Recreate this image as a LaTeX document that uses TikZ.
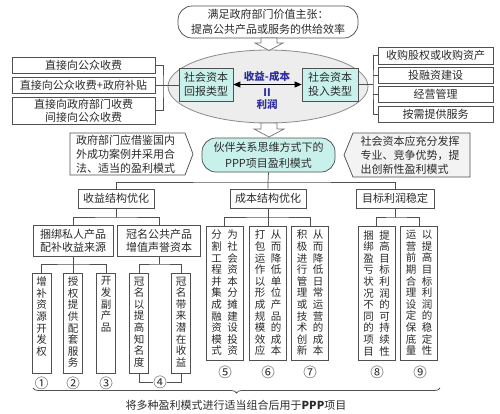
\documentclass[tikz,border=0pt]{standalone}
\usepackage{fontspec}
\setmainfont{Noto Sans CJK SC}
\usetikzlibrary{arrows.meta,shapes.geometric,decorations.pathreplacing,backgrounds}
\definecolor{lc}{HTML}{505050}
\definecolor{tc}{HTML}{2B2B2B}
\definecolor{cy}{HTML}{C9F1EC}
\definecolor{elg}{HTML}{EDEDED}
\definecolor{elb}{HTML}{8A8A8A}
\definecolor{blu}{HTML}{2E2E9E}
\definecolor{pg}{HTML}{F3F3F3}
\newcommand\fsz[2]{\fontsize{#1}{#2}\selectfont}
\makeatletter
\def\vt@loop#1{\ifx\relax#1\else\hbox to 11pt{\hss#1\hss}\expandafter\vt@loop\fi}
\newcommand\vcol[1]{\vtop{\baselineskip=11.6pt\lineskiplimit=-20pt\vt@loop#1\relax}}
\makeatother
\tikzset{
  bx/.style={draw=lc, line width=0.75pt, fill=white, inner sep=0pt, text=tc, align=center, font=\fsz{11}{13.5}},
  cbx/.style={bx, fill=cy},
  vb/.style={draw=lc, line width=0.75pt, fill=white, inner sep=0pt},
  vt/.style={inner sep=0pt, text=tc, font=\fsz{10.5}{11.6}},
  num/.style={inner sep=0pt, text=tc, font=\fsz{13.5}{13.5}},
  ln/.style={draw=lc, line width=0.75pt},
  harrow/.style={draw=lc!80, fill=white, line width=0.7pt, line join=miter},
  bt/.style={inner sep=0pt, text=blu, font=\bfseries\fsz{10.5}{10.5}},
  ptxt/.style={inner sep=0pt, text=tc, font=\fsz{11}{14}, align=left, text width=103pt}
}
\begin{document}
\begin{tikzpicture}[x=1pt,y=-1pt]
\useasboundingbox (0,0) rectangle (500,413);
% top
\node[bx, rounded corners=14pt, minimum width=180, minimum height=32, font=\fsz{11}{15}] (top) at (268,22) {满足政府部门价值主张：\\提高公共产品或服务的供给效率};
% ellipse
\node[draw=elb, fill=elg, ellipse, line width=0.8pt, minimum width=200, minimum height=73, inner sep=0pt] (ell) at (268,86.5) {};
\draw[harrow] (261,38) -- (277,38) -- (277,43) -- (283,43) -- (269,50.5) -- (255,43) -- (261,43) -- cycle;
\draw[harrow] (261,123) -- (277,123) -- (277,129) -- (284,129) -- (269,137) -- (254,129) -- (261,129) -- cycle;
% inner boxes
\node[cbx, minimum width=54, minimum height=33, font=\fsz{11}{14}] (ib1) at (206,84.5) {社会资本\\回报类型};
\node[cbx, minimum width=56, minimum height=33, font=\fsz{11}{14}] (ib2) at (330,84.5) {社会资本\\投入类型};
\draw[line width=0.8pt, {Triangle[length=7pt,width=6pt]}-{Triangle[length=7pt,width=6pt]}] (ib1.east) -- (ib2.west);
\node[bt] (gain) at (267,76) {收益-成本};
\node[bt] (eqs) at (267,93) {II};
\node[bt] (prof) at (267,104) {利润};
% left boxes
\node[bx, minimum width=143, minimum height=16] (l1) at (83.5,65) {直接向公众收费};
\node[bx, minimum width=143, minimum height=16] (l2) at (83.5,85) {直接向公众收费+政府补贴};
\node[bx, minimum width=143, minimum height=27, font=\fsz{11}{13}] (l3) at (83.5,110.5) {直接向政府部门收费\\间接向公众收费};
\coordinate (lb) at (163,85);
\draw[ln] (l1.east) -| (lb) |- (l3.east);
\draw[ln] (l2.east) -- (l2.east -| ib1.west);
% right boxes
\node[bx, minimum width=115, minimum height=17] (r1) at (435.5,55.5) {收购股权或收购资产};
\node[bx, minimum width=115, minimum height=16] (r2) at (435.5,75) {投融资建设};
\node[bx, minimum width=115, minimum height=16] (r3) at (435.5,94) {经营管理};
\node[bx, minimum width=115, minimum height=16] (r4) at (435.5,114) {按需提供服务};
\coordinate (rb) at (373,84.5);
\draw[ln] (r1.west) -| (rb) |- (r4.west);
\draw[ln] (r2.west) -- (r2.west -| rb);
\draw[ln] (r3.west) -- (r3.west -| rb);
\draw[ln] (ib2.east) -- (rb);
% PPP box
\node[cbx, rounded corners=14pt, minimum width=133, minimum height=34, font=\fsz{11}{16}] (ppp) at (268.5,155) {伙伴关系思维方式下的\\PPP项目盈利模式};
% pentagons
\node[ptxt] (lp) at (127.5,154) {政府部门应借鉴国内\\外成功案例并采用合\\法、适当的盈利模式};
\node[ptxt] (rp) at (412,155) {社会资本应充分发挥\\专业、竞争优势，提\\出创新性盈利模式};
\begin{pgfonlayer}{background}
\draw[ln, fill=white] (70,133) -- (185,133) -- (193,154) -- (185,175) -- (70,175) -- cycle;
\draw[ln, fill=pg] (470,133) -- (353,133) -- (344,155) -- (353,177) -- (470,177) -- cycle;
\end{pgfonlayer}
% level 2
\node[bx, minimum width=76, minimum height=19] (s1) at (116,198.5) {收益结构优化};
\node[bx, minimum width=76, minimum height=19] (s2) at (268,198.5) {成本结构优化};
\node[bx, minimum width=78, minimum height=19] (s3) at (395,198.5) {目标利润稳定};
\coordinate (bus) at (268,182);
\draw[ln] (ppp.south) -- (bus) -- (s2.north);
\draw[ln] (s1.north) |- (bus) -| (s3.north);
% level 3
\node[bx, minimum width=80, minimum height=31] (k1) at (73,241) {捆绑私人产品\\配补收益来源};
\node[bx, minimum width=83, minimum height=31] (k2) at (159,241) {冠名公共产品\\增值声誉资本};
\coordinate (j1) at (116,217);
\draw[ln] (s1.south) -- (j1);
\draw[ln] (k1.north) |- (j1) -| (k2.north);
% level 4 left
\node[vb, minimum width=19, minimum height=100] (v1) at (41.5,323) {};
\node[vb, minimum width=19, minimum height=100] (v2) at (73,323) {};
\node[vb, minimum width=19, minimum height=100] (v3) at (106,323) {};
\node[vb, minimum width=19, minimum height=100] (v4) at (139,323) {};
\node[vb, minimum width=19, minimum height=100] (v5) at (181,323) {};
\node[vt, anchor=north] (tv1) at ([yshift=-4pt]v1.north) {\vcol{增补资源开发权}};
\node[vt, anchor=north] (tv2) at ([yshift=-4pt]v2.north) {\vcol{授权提供配套服务}};
\node[vt, anchor=north] (tv3) at ([yshift=-4pt]v3.north) {\vcol{开发副产品}};
\node[vt, anchor=north] (tv4) at ([yshift=-4pt]v4.north) {\vcol{冠名以提高知名度}};
\node[vt, anchor=north] (tv5) at ([yshift=-4pt]v5.north) {\vcol{冠名带来潜在收益}};
\coordinate (j2) at (73,264);
\draw[ln] (k1.south) -- (v2.north);
\draw[ln] (v1.north) |- (j2) -| (v3.north);
\coordinate (j3) at (159,264);
\draw[ln] (k2.south) -- (j3);
\draw[ln] (v4.north) |- (j3) -| (v5.north);
\node[num] (n1) at (41.5,383) {①};
\node[num] (n2) at (73,383) {②};
\node[num] (n3) at (106,383) {③};
\node[num] (n4) at (160,382) {④};
\draw[ln] (v4.south) |- (n4.west);
\draw[ln] (v5.south) |- (n4.east);
% level 4 middle/right
\node[vb, minimum width=37, minimum height=134] (w1) at (224.5,293) {};
\node[vb, minimum width=37, minimum height=134] (w2) at (268,293) {};
\node[vb, minimum width=37, minimum height=134] (w3) at (310,293) {};
\node[vb, minimum width=37, minimum height=134] (w4) at (376.5,293) {};
\node[vb, minimum width=37, minimum height=134] (w5) at (419,293) {};
\node[vt] (tw1) at (w1) {\vcol{分割工程并集成融资模式}\hspace{5pt}\vcol{为社会资本分摊建设投资}};
\node[vt] (tw2) at (w2) {\vcol{打包运作以形成规模效应}\hspace{5pt}\vcol{从而降低单位产品的成本}};
\node[vt] (tw3) at (w3) {\vcol{积极进行管理或技术创新}\hspace{5pt}\vcol{从而降低日常运营的成本}};
\node[vt] (tw4) at (w4) {\vcol{捆绑盈亏状况不同的项目}\hspace{5pt}\vcol{提高目标利润的可持续性}};
\node[vt] (tw5) at (w5) {\vcol{运营前期合理设定保底量}\hspace{5pt}\vcol{以提高目标利润的稳定性}};
\coordinate (j4) at (268,217);
\draw[ln] (s2.south) -- (w2.north);
\draw[ln] (w1.north) |- (j4) -| (w3.north);
\coordinate (j5) at (395,217);
\draw[ln] (s3.south) -- (j5);
\draw[ln] (w4.north) |- (j5) -| (w5.north);
\node[num] (n5) at (225,372) {⑤};
\node[num] (n6) at (268,372) {⑥};
\node[num] (n7) at (310,372) {⑦};
\node[num] (n8) at (377,372) {⑧};
\node[num] (n9) at (420,372) {⑨};
% brace
\coordinate (bl) at (33,388);
\coordinate (br) at (440,388);
\draw[ln, decorate, decoration={brace, mirror, amplitude=5pt}] (bl) -- (br);
\node[inner sep=0pt, text=tc, font=\fsz{11}{11}] (btx) at (236,405) {将多种盈利模式进行适当组合后用于\textbf{PPP}项目};
\end{tikzpicture}
\end{document}
